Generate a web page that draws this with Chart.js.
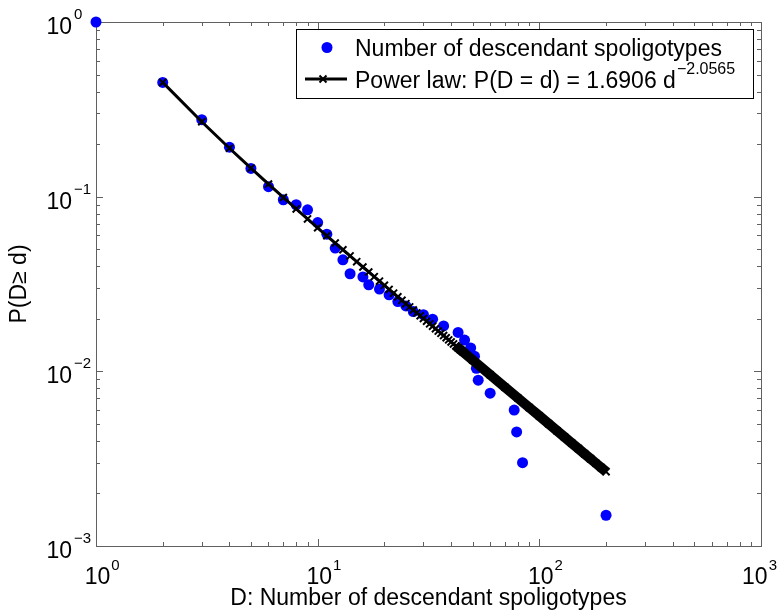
<!DOCTYPE html>
<html>
<head>
<meta charset="utf-8">
<script src="https://cdn.jsdelivr.net/npm/chart.js@4.4.1/dist/chart.umd.min.js"></script>
<style>
  html, body { margin: 0; padding: 0; background: #fff; }
  #wrap { width: 778px; height: 613px; position: relative; }
</style>
</head>
<body>
<div id="wrap"><canvas id="chart-1"></canvas></div>
<script>
// observed CCDF: number of descendant spoligotypes
const spD = [1, 2, 3, 4, 5, 6, 7, 8, 9, 10, 11, 12, 13, 14, 16, 17, 19, 21, 23, 25,
  27, 30, 33, 37, 43, 46, 49, 51, 52, 53, 60, 77, 79, 84, 200];
const spP = [1, 0.451, 0.276, 0.192, 0.145, 0.114, 0.096, 0.0899, 0.0841, 0.0711,
  0.0610, 0.0508, 0.0435, 0.0362, 0.0347, 0.0313, 0.0296, 0.0274, 0.0251, 0.0237,
  0.0220, 0.0211, 0.0199, 0.0182, 0.0167, 0.0151, 0.0136, 0.0122, 0.0104, 0.0089,
  0.0075, 0.0060, 0.0045, 0.0030, 0.0015];

// fitted power law
const fitD = [2, 3, 4, 5, 6, 7, 8, 9, 10, 11, 12, 13, 14, 15, 16, 17, 18, 19, 20, 21,
  22, 23, 24, 25, 26, 27, 28, 29, 30, 31, 32, 33, 34, 35, 36, 37, 38, 39, 40, 41,
  42, 43, 44, 45, 50, 60, 70, 80, 90, 100, 110, 120, 130, 140, 150, 160, 170, 180, 190, 200];
const fitP = [0.4510, 0.2685, 0.1894, 0.1456, 0.1180, 0.09895, 0.08511, 0.07459, 0.06635, 0.05970,
  0.05424, 0.04967, 0.04578, 0.04246, 0.03957, 0.03706, 0.03482, 0.03284, 0.03107, 0.02945,
  0.02802, 0.02670, 0.02550, 0.02440, 0.02339, 0.02246, 0.02160, 0.02080, 0.02006, 0.01936,
  0.01871, 0.01811, 0.01754, 0.01700, 0.01650, 0.01602, 0.01557, 0.01514, 0.01474, 0.01435,
  0.01398, 0.01364, 0.01331, 0.01300, 0.01161, 0.009559, 0.008110, 0.007039, 0.006211, 0.005553,
  0.005018, 0.004575, 0.004202, 0.003886, 0.003612, 0.003372, 0.003163, 0.002977, 0.002811, 0.002663];

const xTicks = [1, 10, 100, 1000];
const xTickExp = ['0', '1', '2', '3'];
const yTicks = [1, 0.1, 0.01, 0.001];
const yTickExp = ['0', '\u22121', '\u22122', '\u22123'];

const xTitle = 'D: Number of descendant spoligotypes';
const yTitle = 'P(D\u2265 d)';
const seriesNames = ['Number of descendant spoligotypes', 'Power law: P(D = d) = 1.6906 d'];
const fitExp = '\u22122.0565';

const FONT = '"Liberation Sans", Arial, sans-serif';

// box, inward ticks on all four sides (MATLAB style)
const axesBox = {
  id: 'axesBox',
  beforeDatasetsDraw(chart) {
    const { ctx, chartArea: a, scales: { x, y } } = chart;
    ctx.save();
    ctx.strokeStyle = '#606060';
    ctx.lineWidth = 1;
    ctx.beginPath();
    for (let k = 0; k < 3; k++) {
      for (let m = 1; m < 10; m++) {
        const v = m * Math.pow(10, k);
        const px = Math.round(x.getPixelForValue(v)) + 0.5;
        const len = m === 1 ? 7 : 4;
        ctx.moveTo(px, a.bottom); ctx.lineTo(px, a.bottom - len);
        ctx.moveTo(px, a.top); ctx.lineTo(px, a.top + len);
      }
    }
    for (let k = -3; k < 0; k++) {
      for (let m = 1; m < 10; m++) {
        const v = m * Math.pow(10, k);
        const py = Math.round(y.getPixelForValue(v)) + 0.5;
        const len = m === 1 ? 7 : 4;
        ctx.moveTo(a.left, py); ctx.lineTo(a.left + len, py);
        ctx.moveTo(a.right, py); ctx.lineTo(a.right - len, py);
      }
    }
    ctx.stroke();
    ctx.strokeRect(a.left + 0.5, a.top + 0.5, a.right - a.left, a.bottom - a.top);
    ctx.restore();
  },
  afterDraw(chart) {
    const { ctx, chartArea: a, scales: { x, y } } = chart;
    ctx.save();
    ctx.fillStyle = '#000';
    ctx.textBaseline = 'alphabetic';
    // x tick labels
    xTicks.forEach((v, i) => {
      const px = x.getPixelForValue(v);
      ctx.font = '23px ' + FONT;
      const wb = ctx.measureText('10').width;
      ctx.font = '15px ' + FONT;
      const we = ctx.measureText(xTickExp[i]).width;
      const sx = Math.min(px + 1.5 - wb / 2, chart.width - wb - we - 2);
      ctx.textAlign = 'left';
      ctx.font = '23px ' + FONT;
      ctx.fillText('10', sx, a.bottom + 38);
      ctx.font = '15px ' + FONT;
      ctx.fillText(xTickExp[i], sx + wb + 1, a.bottom + 24);
    });
    // y tick labels
    yTicks.forEach((v, i) => {
      const py = y.getPixelForValue(v);
      ctx.font = '23px ' + FONT;
      ctx.textAlign = 'right';
      ctx.fillText('10', 72, py + 12);
      ctx.font = '15px ' + FONT;
      ctx.textAlign = 'left';
      ctx.fillText(yTickExp[i], 74, py - 3);
    });
    // axis titles
    ctx.font = '23px ' + FONT;
    ctx.textAlign = 'center';
    ctx.fillText(xTitle, (a.left + a.right) / 2, 605);
    ctx.save();
    ctx.translate(20, (a.top + a.bottom) / 2);
    ctx.rotate(-Math.PI / 2);
    ctx.textBaseline = 'middle';
    ctx.fillText(yTitle, 0, 0);
    ctx.restore();

    // legend box
    const L = 296, T = 29, R = 753, B = 98;
    ctx.fillStyle = '#fff';
    ctx.fillRect(L, T, R - L, B - T);
    ctx.strokeStyle = '#000';
    ctx.lineWidth = 1;
    ctx.strokeRect(L + 0.5, T + 0.5, R - L, B - T);
    // item 1: blue dot
    ctx.fillStyle = '#0000ff';
    ctx.beginPath();
    ctx.arc(327, 47.5, 5.5, 0, Math.PI * 2);
    ctx.fill();
    // item 2: line with x marker
    ctx.strokeStyle = '#000';
    ctx.lineWidth = 3;
    ctx.beginPath();
    ctx.moveTo(305, 79); ctx.lineTo(347, 79);
    ctx.stroke();
    ctx.lineWidth = 2;
    ctx.beginPath();
    const r = 3.5;
    ctx.moveTo(323 - r, 79 - r); ctx.lineTo(323 + r, 79 + r);
    ctx.moveTo(323 - r, 79 + r); ctx.lineTo(323 + r, 79 - r);
    ctx.stroke();
    ctx.fillStyle = '#000';
    ctx.font = '23px ' + FONT;
    ctx.textAlign = 'left';
    ctx.fillText(seriesNames[0], 355, 56);
    ctx.fillText(seriesNames[1], 355, 88);
    const w2 = ctx.measureText(seriesNames[1]).width;
    ctx.font = '16px ' + FONT;
    ctx.fillText(fitExp, 355 + w2 + 1, 74);
    ctx.restore();
  }
};

const obsPoints = spD.map((d, i) => ({ x: d, y: spP[i] }));
const fitPoints = fitD.map((d, i) => ({ x: d, y: fitP[i] }));
const bandPoints = fitPoints.filter(p => p.x >= 42);

const chart1 = new Chart(document.getElementById('chart-1'), {
  type: 'scatter',
  data: {
    datasets: [
      {
        label: seriesNames[0],
        data: obsPoints,
        backgroundColor: '#0000ff',
        borderWidth: 0,
        pointRadius: 5.5,
        showLine: false,
        clip: false,
        order: 3
      },
      {
        label: seriesNames[1],
        data: fitPoints,
        showLine: true,
        borderColor: '#000',
        borderWidth: 3,
        pointStyle: 'crossRot',
        pointRadius: 5,
        pointBorderWidth: 2,
        pointBorderColor: '#000',
        pointBackgroundColor: '#000',
        order: 1
      },
      {
        label: 'band',
        data: bandPoints,
        showLine: true,
        borderColor: '#000',
        borderWidth: 10,
        pointRadius: 0,
        order: 2
      }
    ]
  },
  options: {
    responsive: true,
    maintainAspectRatio: false,
    animation: false,
    layout: { padding: { left: 96, top: 22, right: 17, bottom: 67 } },
    scales: {
      x: { type: 'logarithmic', min: 1, max: 1000, display: false },
      y: { type: 'logarithmic', min: 0.001, max: 1, display: false }
    },
    plugins: {
      legend: { display: false },
      tooltip: { enabled: false }
    }
  },
  plugins: [axesBox]
});
</script>
</body>
</html>
